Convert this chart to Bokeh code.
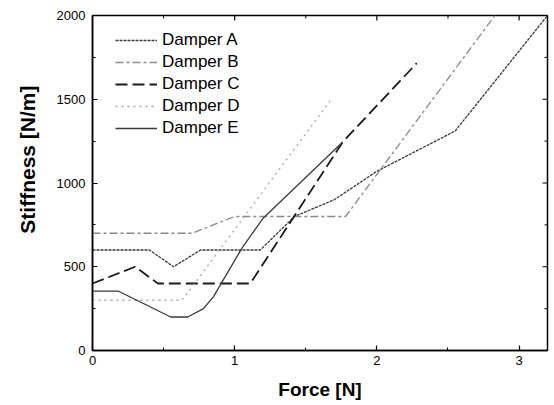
import math
from bokeh.plotting import figure
from bokeh.models import Range1d, Legend, LegendItem, FixedTicker, Title
from bokeh.embed import file_html
from bokeh.resources import INLINE

# Data
damper_names = ["Damper A", "Damper B", "Damper C", "Damper D", "Damper E"]

a_force = [0, 0.40, 0.57, 0.76, 1.18, 1.42, 1.70, 2.00, 2.55, 3.20]
a_stiff = [600, 600, 500, 600, 600, 800, 900, 1070, 1310, 2000]

b_force = [0, 0.70, 1.00, 1.78, 2.83]
b_stiff = [700, 700, 800, 800, 2000]

c_force = [0, 0.30, 0.46, 1.11, 1.76, 2.28]
c_stiff = [400, 500, 400, 400, 1245, 1715]

d_force = [0, 0.63, 1.68]
d_stiff = [300, 300, 1500]

e_force = [0, 0.18, 0.55, 0.67, 0.78, 0.85, 1.05, 1.20, 1.76]
e_stiff = [355, 355, 200, 200, 250, 320, 610, 790, 1245]

x_ticks = [0, 1, 2, 3]
x_minor = [0.5, 1.5, 2.5]
y_ticks = [0, 500, 1000, 1500, 2000]
y_minor = [250, 750, 1250, 1750]
x_max, y_max = 3.2, 2000

FONT = "Liberation Sans"
FW, FH = 455, 335

p = figure(frame_width=FW, frame_height=FH,
           x_range=Range1d(0, x_max), y_range=Range1d(0, y_max),
           output_backend="svg", toolbar_location=None,
           min_border_left=92, min_border_right=7,
           min_border_top=15, min_border_bottom=55)
p.background_fill_color = "white"
p.border_fill_color = "white"
p.xgrid.visible = False
p.ygrid.visible = False
p.outline_line_color = "black"
p.outline_line_width = 1.5

styles = [
    dict(color="#3a3a3a", line_width=1.3, line_dash="3 1"),
    dict(color="#8a8a8a", line_width=1.3, line_dash="8 3 3 3"),
    dict(color="#1a1a1a", line_width=1.8, line_dash="12 5"),
    dict(color="#a8a8a8", line_width=1.3, line_dash="2 4"),
    dict(color="#3a3a3a", line_width=1.3, line_dash="solid"),
]
series = [(a_force, a_stiff), (b_force, b_stiff), (c_force, c_stiff),
          (d_force, d_stiff), (e_force, e_stiff)]

items = []
for name, (xs, ys), st in zip(damper_names, series, styles):
    r = p.line(xs, ys, line_color=st["color"], line_width=st["line_width"],
               line_dash=st["line_dash"])
    items.append(LegendItem(label=name, renderers=[r]))

legend = Legend(items=items, location=(23, FH - 15 - 108),
                border_line_alpha=0, background_fill_alpha=0,
                padding=0, margin=0, spacing=2,
                glyph_width=42, glyph_height=20, label_height=20,
                label_standoff=5,
                label_text_font=FONT, label_text_font_size="17px",
                label_text_color="black")
p.add_layout(legend, "center")

for ax, ticks, minor in [(p.xaxis[0], x_ticks, x_minor),
                         (p.yaxis[0], y_ticks, y_minor)]:
    ax.ticker = FixedTicker(ticks=ticks, minor_ticks=minor)
    ax.major_label_text_font = FONT
    ax.major_label_text_font_size = "13px"
    ax.major_label_text_color = "black"
    ax.axis_line_width = 1.5
    ax.axis_line_color = "black"
    ax.major_tick_in = 5
    ax.major_tick_out = 0
    ax.minor_tick_in = 3
    ax.minor_tick_out = 0
    ax.major_tick_line_width = 1.2
    ax.major_tick_line_color = "black"
    ax.minor_tick_line_color = "black"

p.xaxis[0].axis_label = "Force [N]"
p.xaxis[0].axis_label_text_font = FONT
p.xaxis[0].axis_label_text_font_style = "bold"
p.xaxis[0].axis_label_text_font_size = "19px"
p.xaxis[0].axis_label_text_color = "black"
p.xaxis[0].major_label_standoff = 5
p.xaxis[0].axis_label_standoff = 11
p.yaxis[0].major_label_standoff = 7

# y-axis title as a side title, shifted towards the top like the reference
ytitle = Title(text="Stiffness [N/m]", align="right", offset=70,
               vertical_align="top", standoff=26,
               text_font=FONT, text_font_style="bold",
               text_font_size="21px", text_color="black")
p.add_layout(ytitle, "left")

# mirrored inward ticks on the top and right edges
p.ray(x=x_ticks, y=[y_max] * len(x_ticks), length=5, length_units="screen",
      angle=-math.pi / 2, line_color="black", line_width=1.2)
p.ray(x=x_minor, y=[y_max] * len(x_minor), length=3, length_units="screen",
      angle=-math.pi / 2, line_color="black", line_width=1)
p.ray(x=[x_max] * len(y_ticks), y=y_ticks, length=5, length_units="screen",
      angle=math.pi, line_color="black", line_width=1.2)
p.ray(x=[x_max] * len(y_minor), y=y_minor, length=3, length_units="screen",
      angle=math.pi, line_color="black", line_width=1)

open("out.html", "w").write(file_html(p, INLINE))
